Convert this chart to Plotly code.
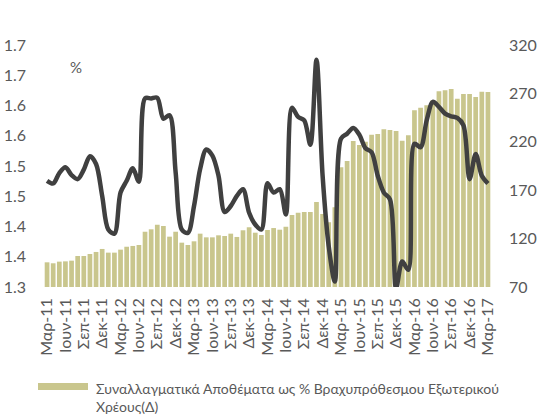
import plotly.graph_objects as go

month_names = ["Μαρ", "Απρ", "Μαϊ", "Ιουν", "Ιουλ", "Αυγ", "Σεπ", "Οκτ", "Νοε", "Δεκ", "Ιαν", "Φεβ"]
categories = []
for k in range(73):
    m = month_names[k % 12]
    yr = 11 + (k + 2) // 12
    categories.append(f"{m}-{yr}")

reserves_pct = [95.5, 94.5, 96.2, 96.5, 97.2, 102.0, 102.0, 104.1, 106.2, 109.3,
                105.5, 105.5, 108.6, 111.6, 112.4, 113.4, 127.1, 129.6, 134.4, 133.0,
                122.0, 127.1, 115.8, 113.4, 117.2, 125.1, 121.3, 121.3, 123.4, 122.7,
                125.1, 121.7, 128.6, 131.7, 126.1, 123.7, 128.9, 130.9, 129.2, 132.3,
                144.4, 146.8, 147.5, 147.5, 157.8, 145.4, 136.8, 152.3, 193.6, 200.2,
                220.8, 216.7, 220.1, 227.3, 228.0, 232.9, 232.2, 231.1, 221.1, 226.7,
                252.5, 255.2, 257.7, 262.9, 272.2, 273.2, 274.5, 264.5, 269.4, 269.4,
                266.3, 271.7, 271.4]

line_values = [1.4755, 1.4711, 1.4883, 1.4978, 1.485, 1.4783, 1.4939, 1.5161, 1.5033, 1.4506,
               1.395, 1.3883, 1.4561, 1.4755, 1.4961, 1.4739, 1.6117, 1.6117, 1.6128, 1.5783,
               1.5839, 1.4894, 1.395, 1.3894, 1.4339, 1.495, 1.5272, 1.5172, 1.4839, 1.4239,
               1.4339, 1.4506, 1.4617, 1.4228, 1.4033, 1.395, 1.4717, 1.4561, 1.4617, 1.42,
               1.5961, 1.5811, 1.5756, 1.535, 1.6756, 1.4839, 1.3672, 1.3089, 1.545, 1.5533,
               1.5628, 1.5517, 1.5294, 1.5228, 1.4839, 1.4561, 1.445, 1.298, 1.3422, 1.3283,
               1.5367, 1.5311, 1.5756, 1.6061, 1.5978, 1.5867, 1.5822, 1.5794, 1.5672, 1.4783,
               1.52, 1.4839, 1.4711]

left_tickvals = [1.30, 1.35, 1.40, 1.45, 1.50, 1.55, 1.60, 1.65, 1.70]
left_ticktext = ["1.3", "1.4", "1.4", "1.5", "1.5", "1.6", "1.6", "1.7", "1.7"]
right_tickvals = [70, 120, 170, 220, 270, 320]

legend_text = "Συναλλαγματικά Αποθέματα ως % Βραχυπρόθεσμου Εξωτερικού<br>Χρέους(Δ)"

FONT = "Lato, 'Noto Sans', sans-serif"
TXT = "#595959"
BAR = "#C9C68D"

fig = go.Figure()
fig.add_trace(go.Bar(x=categories, y=reserves_pct, marker=dict(color=BAR, line=dict(width=0)),
                     yaxis="y", showlegend=False, name="Συναλλαγματικά Αποθέματα ως % Βραχυπρόθεσμου Εξωτερικού Χρέους(Δ)"))
fig.add_trace(go.Scatter(x=categories, y=line_values, mode="lines",
                         line=dict(color="#404040", width=4.5, shape="spline", smoothing=0.9),
                         yaxis="y2", showlegend=False, name="%"))

W, H = 543, 416
L, R, T, B = 44, 52, 45, 129
pw, ph = W - L - R, H - T - B

def px_x(x):
    return (x - L) / pw

def px_y(y):
    return (H - B - y) / ph

fig.update_layout(
    template="none",
    width=W, height=H,
    margin=dict(l=L, r=R, t=T, b=B, pad=0),
    paper_bgcolor="white", plot_bgcolor="white",
    font=dict(family=FONT, color=TXT, size=15),
    bargap=0.23,
    xaxis=dict(type="category", tickmode="array", tickvals=categories[::3], ticktext=categories[::3],
               tickangle=-90, showgrid=False, showline=False, zeroline=False, ticks="",
               automargin=False, tickfont=dict(size=16, color=TXT), ticklabelstandoff=7),
    yaxis=dict(side="right", range=[70, 320], tickvals=right_tickvals, showgrid=False,
               zeroline=False, showline=False, ticks="", automargin=False,
               tickfont=dict(size=16, color=TXT), ticklabelstandoff=17),
    yaxis2=dict(side="left", overlaying="y", range=[1.3, 1.7], tickvals=left_tickvals,
                ticktext=left_ticktext, showgrid=False, zeroline=False, showline=False, ticks="",
                automargin=False, tickfont=dict(size=16, color=TXT), ticklabelstandoff=17),
    annotations=[
        dict(text="%", x=px_x(76), y=px_y(67), xref="paper", yref="paper", showarrow=False,
             xanchor="center", yanchor="middle", font=dict(size=15, color=TXT)),
        dict(text=legend_text, x=px_x(94), y=px_y(378), xref="paper", yref="paper",
             xanchor="left", yanchor="top", align="left", showarrow=False,
             font=dict(size=14, color=TXT)),
    ],
    shapes=[
        dict(type="rect", xref="paper", yref="paper", x0=px_x(38), x1=px_x(88),
             y0=px_y(390), y1=px_y(383), fillcolor=BAR, line=dict(width=0)),
    ],
)

fig.write_html("out.html", config={"displayModeBar": False},
               post_script="document.body.style.margin='0';document.body.style.padding='0';")
